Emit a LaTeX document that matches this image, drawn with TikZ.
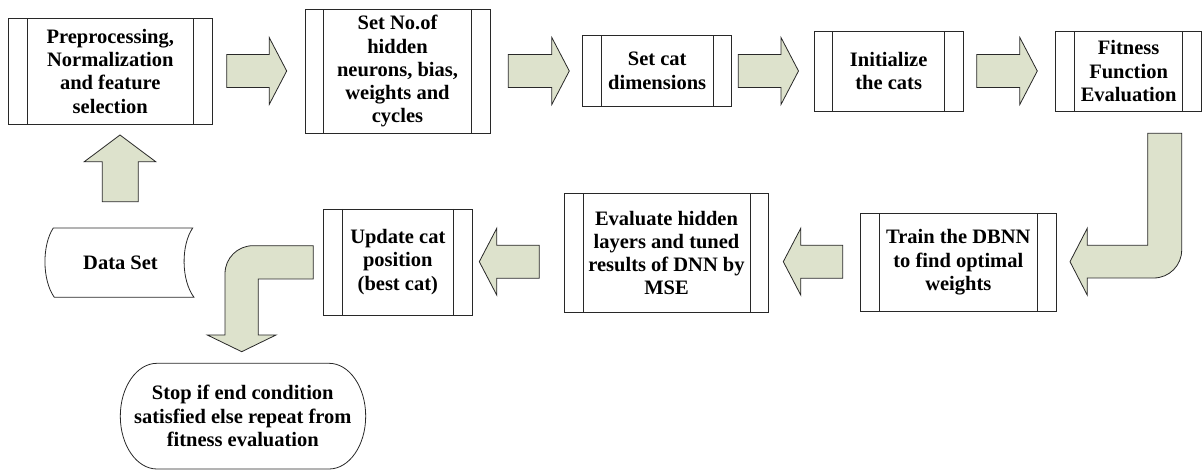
\documentclass[tikz,border=0pt]{standalone}
\usepackage{fontspec}
\setmainfont{Liberation Serif}
\definecolor{arrowfill}{RGB}{221,226,204}
\definecolor{edge}{RGB}{40,40,40}
\newcommand{\BArrowR}[3]{\draw[blockarrow] (#1,#3-16.5) -- (#2-17.5,#3-16.5) -- (#2-17.5,#3-33.5) -- (#2,#3) -- (#2-17.5,#3+33.5) -- (#2-17.5,#3+16.5) -- (#1,#3+16.5) -- cycle;}
\newcommand{\BArrowL}[3]{\draw[blockarrow] (#1,#3-16.5) -- (#2+17.5,#3-16.5) -- (#2+17.5,#3-33.5) -- (#2,#3) -- (#2+17.5,#3+33.5) -- (#2+17.5,#3+16.5) -- (#1,#3+16.5) -- cycle;}
\begin{document}
\begin{tikzpicture}[x=1pt,y=-1pt,
  txt/.style={font={\fontsize{20.5pt}{23.3pt}\selectfont\bfseries}, align=center, inner sep=0pt},
  procbox/.style={txt, draw=edge, line width=0.8pt, fill=white,
    path picture={\draw[line width=0.8pt, edge]
      ([xshift=18.8pt]path picture bounding box.north west) -- ([xshift=18.8pt]path picture bounding box.south west)
      ([xshift=-18.8pt]path picture bounding box.north east) -- ([xshift=-18.8pt]path picture bounding box.south east);}},
  blockarrow/.style={fill=arrowfill, draw=edge, line width=0.8pt, line join=miter},
  outline/.style={draw=edge, line width=0.8pt}]
\useasboundingbox (0,0) rectangle (1203,470);

% process boxes
\node[procbox, minimum width=204pt, minimum height=106pt] (b1) at (110.3,71.3) {Preprocessing,\\Normalization\\and feature\\selection};
\node[procbox, minimum width=185pt, minimum height=124pt] (b2) at (397.5,71.3) {Set No.of\\hidden\\neurons, bias,\\weights and\\cycles};
\node[procbox, minimum width=149pt, minimum height=71.7pt] (b3) at (657.2,70.9) {Set cat\\dimensions};
\node[procbox, minimum width=149.3pt, minimum height=79.3pt] (b4) at (888.7,71.3) {Initialize\\the cats};
\node[procbox, minimum width=145.8pt, minimum height=79.3pt] (b5) at (1128.6,71.3) {Fitness\\Function\\Evaluation};
\node[procbox, minimum width=195.3pt, minimum height=97.7pt] (b6) at (958.3,262.2) {Train the DBNN\\to find optimal\\weights};
\node[procbox, minimum width=204.4pt, minimum height=119.4pt] (b7) at (666.5,253) {Evaluate hidden\\layers and tuned\\results of DNN by\\MSE};
\node[procbox, minimum width=149pt, minimum height=106pt] (b8) at (397.8,262) {Update cat\\position\\(best cat)};

% data set (stored data shape)
\node[txt] (ds) at (120.5,262.6) {Data Set};
\draw[outline] (53.3,228) -- (192.7,228) .. controls (181,245) and (181,280) .. (194,297.3)
  -- (54.3,297.3) .. controls (42,280) and (42,245) .. (53.3,228) -- cycle;

% terminator
\node[txt] (stop) at (242.8,416.2) {Stop if end condition\\satisfied else repeat from\\fitness evaluation};
\draw[outline] (157,363.3) -- (329,363.3) .. controls (349.3,363.3) and (365.7,387) .. (365.7,416.2)
  .. controls (365.7,445.4) and (349.3,469) .. (329,469) -- (157,469)
  .. controls (136.7,469) and (120.3,445.4) .. (120.3,416.2)
  .. controls (120.3,387) and (136.7,363.3) .. (157,363.3) -- cycle;

% straight block arrows
\BArrowR{226.7}{286.7}{71}
\BArrowR{508.3}{569.3}{71}
\BArrowR{738.3}{798.5}{71}
\BArrowR{976.7}{1037.3}{71}
\BArrowL{842.7}{783.3}{261.7}
\BArrowL{539.3}{479.3}{261.7}

% up arrow
\draw[blockarrow] (102.3,201.7) -- (102.3,161.7) -- (84.3,161.7) -- (120,135) -- (155.7,161.7)
  -- (138.3,161.7) -- (138.3,201.7) -- cycle;

% bent arrow right (fitness -> train)
\draw[blockarrow] (1147.7,133.3) -- (1181.7,133.3) -- (1181.7,250)
  .. controls (1181.7,265.5) and (1169.2,278) .. (1153.7,278)
  -- (1087.3,278) -- (1087.3,295.2) -- (1070,261.7) -- (1087.3,228.2) -- (1087.3,245.3)
  -- (1147.7,245.3) -- cycle;

% bent arrow left (update -> stop)
\draw[blockarrow] (313.3,245.7) -- (253,245.7)
  .. controls (237.5,245.7) and (225,258.2) .. (225,273.7)
  -- (225,335) -- (207.3,335) -- (241.7,351.7) -- (276,335) -- (258.3,335)
  -- (258.3,279) -- (313.3,279) -- cycle;
\end{tikzpicture}
\end{document}
